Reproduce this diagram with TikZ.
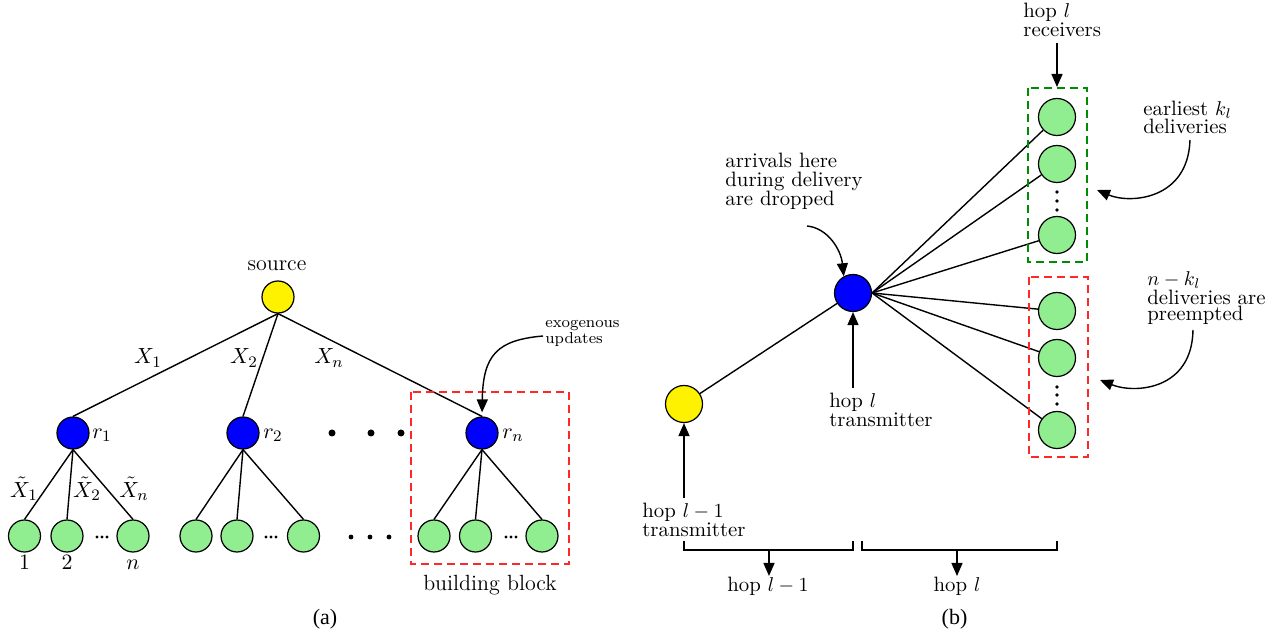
\documentclass[tikz,border=0pt]{standalone}
\usepackage{fontspec}
\newfontfamily\capfont{Liberation Serif}
\usetikzlibrary{arrows.meta}
\definecolor{leafgreen}{RGB}{144,238,144}
\definecolor{boxgreen}{RGB}{0,140,0}
\definecolor{boxred}{RGB}{255,40,40}
\begin{document}
\begin{tikzpicture}[x=0.5pt,y=-0.5pt,
 every node/.style={inner sep=0pt},
 nd/.style={circle,draw=black,line width=0.6pt,minimum size=16pt},
 srcnode/.style={nd,fill=yellow},
 relay/.style={nd,fill=blue},
 leaf/.style={nd,fill=leafgreen},
 bignd/.style={minimum size=18.5pt},
 edge/.style={line width=0.7pt},
 arr/.style={line width=0.7pt,-{Triangle[length=6.5pt,width=5.5pt]}},
 lbl/.style={font=\fontsize{11}{12}\selectfont},
 rlbl/.style={align=left,anchor=west},
 dbox/.style={dash pattern=on 4pt off 2.5pt,line width=0.7pt},
 dotc/.style={fill=black,draw=none,circle,minimum size=#1},
]
\useasboundingbox (0,0) rectangle (1287,636);

% ---------------- (a) ----------------
\node[srcnode] (src) at (278,297) {};
\node[lbl] (srclbl) at (277,266) {source};
\node[relay] (r1) at (73,433) {};
\node[relay] (r2) at (243,433) {};
\node[relay] (rn) at (482,433) {};
\node[lbl] (r1lbl) at (102,435) {$r_1$};
\node[lbl] (r2lbl) at (273,435) {$r_2$};
\node[lbl] (rnlbl) at (513,435) {$r_n$};

\node[leaf] (l11) at (24.5,536) {};
\node[leaf] (l12) at (67,536) {};
\node[leaf] (l1n) at (133,536) {};
\node[leaf] (l21) at (196,536) {};
\node[leaf] (l22) at (237,536) {};
\node[leaf] (l2n) at (303.5,536) {};
\node[leaf] (l31) at (434,536) {};
\node[leaf] (l32) at (475.5,536) {};
\node[leaf] (l3n) at (542,536) {};

\draw[edge] (src.south) -- (r1.north);
\draw[edge] (src.south) -- (r2.north);
\draw[edge] (src.south) -- (rn.north);
\foreach \p/\a/\b/\c in {r1/l11/l12/l1n, r2/l21/l22/l2n, rn/l31/l32/l3n}{
  \draw[edge] (\p.south) -- (\a.north);
  \draw[edge] (\p.south) -- (\b.north);
  \draw[edge] (\p.south) -- (\c.north);
}

\node[lbl] (x1) at (148,358) {$X_1$};
\node[lbl] (x2) at (244,358) {$X_2$};
\node[lbl] (xn) at (329,358) {$X_n$};
\node[lbl] (tx1) at (24,489) {$\tilde{X}_1$};
\node[lbl] (tx2) at (87,489) {$\tilde{X}_2$};
\node[lbl] (txn) at (134,489) {$\tilde{X}_n$};
\node[lbl,anchor=base] (n1) at (24.5,570) {$1$};
\node[lbl,anchor=base] (n2) at (67,570) {$2$};
\node[lbl,anchor=base] (nn) at (133,570) {$n$};

% big dots between relays
\foreach \x in {332,371,401} \node[dotc=3.5pt] at (\x,433) {};
% dots between leaf groups
\foreach \x in {351,370,389} \node[dotc=2.4pt] at (\x,537) {};
% small dots between leaves
\foreach \x in {102,271,511}{
  \foreach \d in {-5,0,5} \node[dotc=1.6pt] at (\x+\d,537) {};
}

\draw[dbox,boxred] (411,392) rectangle (569,564);
\node[lbl] (bb) at (490,585) {building block};

\node[rlbl,font=\fontsize{7.9}{8}\selectfont] (exo) at (545,333) {exogenous\\updates};
\coordinate (exoS) at (543,336);
\draw[arr,shorten >=2pt] (exoS) .. controls (497,340) and (483,355) .. (rn.north);

\node[font=\capfont\fontsize{11}{12}\selectfont] (capa) at (325,619) {(a)};

% ---------------- (b) ----------------
\node[srcnode,bignd] (y) at (684,404) {};
\node[relay,bignd] (bn) at (853,293) {};
\node[leaf,bignd] (g1) at (1057,117) {};
\node[leaf,bignd] (g2) at (1057,164) {};
\node[leaf,bignd] (g3) at (1057,235) {};
\node[leaf,bignd] (g4) at (1057,311) {};
\node[leaf,bignd] (g5) at (1057,358) {};
\node[leaf,bignd] (g6) at (1057,430) {};

\draw[edge] (y) -- (bn);
\foreach \g in {g1,g2,g3,g4,g5,g6} \draw[edge] (bn.east) -- (\g);

\foreach \yy in {192,201,210,387,395,404} \node[dotc=1.8pt] at (1057,\yy) {};

\draw[dbox,boxgreen] (1028,88) rectangle (1087,262);
\draw[dbox,boxred] (1029,277) rectangle (1088,457);

\node[rlbl,font=\fontsize{10.4}{9.5}\selectfont] (arrl) at (725,181) {arrivals here\\during delivery\\are dropped};
\coordinate (arrS) at (807,226);
\draw[arr] (arrS) .. controls (828,228) and (841,250) .. (bn.119);

\node[rlbl,font=\fontsize{10.4}{8}\selectfont] (rcv) at (1023,20) {hop $l$\\receivers};
\coordinate (rcvS) at (1057,43);
\coordinate (rcvE) at (1057,87);
\draw[arr] (rcvS) -- (rcvE);

\node[rlbl,font=\fontsize{10.4}{9}\selectfont] (earl) at (1143,117) {earliest $k_l$\\deliveries};
\coordinate (earS) at (1190,140);
\coordinate (earE) at (1097,190);
\draw[arr] (earS) .. controls (1188,200) and (1130,204) .. (earE);

\node[rlbl,font=\fontsize{10.4}{8}\selectfont] (pre) at (1147,298) {$n-k_l$\\deliveries are\\preempted};
\coordinate (preS) at (1193,330);
\coordinate (preE) at (1100,380);
\draw[arr] (preS) .. controls (1192,390) and (1135,394) .. (preE);

\node[rlbl,font=\fontsize{10.4}{8}\selectfont] (txl) at (829,410) {hop $l$\\transmitter};
\coordinate (txS) at (853,388);
\draw[arr] (txS) -- (bn.south);

\node[rlbl,font=\fontsize{10.4}{8}\selectfont] (tx1l) at (642,520) {hop $l-1$\\transmitter};
\coordinate (tx1S) at (684,498);
\draw[arr] (tx1S) -- (y.south);

\coordinate (b1a) at (684,541);
\coordinate (b1b) at (853,541);
\coordinate (b2a) at (862,541);
\coordinate (b2b) at (1057,541);
\draw[edge] (b1a) -- (684,550) -| (b1b);
\draw[edge] (b2a) -- (862,550) -| (b2b);
\coordinate (h1S) at (769,550);
\coordinate (h1E) at (769,576);
\coordinate (h2S) at (957,550);
\coordinate (h2E) at (957,576);
\draw[arr] (h1S) -- (h1E);
\draw[arr] (h2S) -- (h2E);
\node[font=\fontsize{10.4}{12}\selectfont] (hop1) at (768,586) {hop $l-1$};
\node[font=\fontsize{10.4}{12}\selectfont] (hop2) at (957,586) {hop $l$};

\node[font=\capfont\fontsize{11}{12}\selectfont] (capb) at (954.5,619) {(b)};
\end{tikzpicture}
\end{document}
